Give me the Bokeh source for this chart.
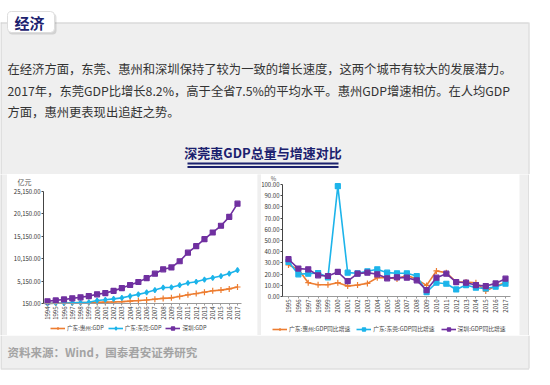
import math
from bokeh.plotting import figure
from bokeh.layouts import column, row
from bokeh.models import Range1d, FixedTicker, NumeralTickFormatter, Legend, LegendItem, Label
from bokeh.core.properties import value
from bokeh.embed import file_html
from bokeh.resources import INLINE

# ---------------- data ----------------
years_total = list(range(1994, 2018))
huizhou_gdp = [168, 215, 265, 300, 335, 370, 410, 452, 500, 576, 685, 803, 935, 1105,
               1290, 1415, 1730, 2093, 2368, 2678, 3000, 3140, 3412, 3830]
dongguan_gdp = [158, 207, 246, 295, 357, 414, 820, 992, 1185, 1404, 1805, 2183, 2627, 3151,
                3702, 3763, 4246, 4735, 5010, 5490, 5881, 6275, 6828, 7582]
shenzhen_gdp = [635, 843, 1051, 1297, 1535, 1804, 2188, 2483, 2970, 3586, 4282, 4951, 5814,
                6802, 7787, 8201, 9582, 11506, 12950, 14500, 16002, 17503, 19493, 22438]

years_growth = list(range(1995, 2018))
huizhou_growth = [28.2, 24.3, 12.3, 10.5, 10.5, 12.3, 9.3, 10.2, 11.7, 16.8, 17.0, 15.6,
                  18.9, 15.3, 9.9, 22.8, 21.3, 12.9, 12.9, 12.3, 4.8, 9.3, 12.3]
dongguan_growth = [31.0, 19.8, 20.4, 21.0, 17.1, 98.5, 21.3, 20.7, 22.5, 24.3, 21.3, 20.7,
                   20.7, 18.3, 3.9, 12.3, 11.4, 6.3, 10.2, 7.8, 7.2, 8.7, 11.4]
shenzhen_growth = [33.3, 24.9, 24.3, 18.9, 18.3, 21.9, 13.8, 20.4, 21.3, 19.8, 16.2, 17.1,
                   16.8, 14.4, 5.7, 16.8, 20.4, 12.9, 12.3, 10.2, 9.3, 11.7, 15.9]

left_yticks = [150, 5150, 10150, 15150, 20150, 25150]
right_yticks = [0, 10, 20, 30, 40, 50, 60, 70, 80, 90, 100]

tab_text = "经济"
paragraph_lines = [
    "在经济方面，东莞、惠州和深圳保持了较为一致的增长速度，这两个城市有较大的发展潜力。",
    "2017年，东莞GDP比增长8.2%，高于全省7.5%的平均水平。惠州GDP增速相仿。在人均GDP",
    "方面，惠州更表现出追赶之势。",
]
chart_title = "深莞惠GDP总量与增速对比"
source_text = "资料来源：Wind，国泰君安证券研究"
legend_total = ["广东:惠州:GDP", "广东:东莞:GDP", "深圳:GDP"]
legend_growth = ["广东:惠州:GDP同比增速", "广东:东莞:GDP同比增速", "深圳:GDP同比增速"]
left_unit = "亿元"
right_unit = "%"

# ---------------- style ----------------
FONT_NAME = "Noto Sans CJK SC"
FONT = value(FONT_NAME)
ORANGE = "#ED7D31"
CYAN = "#1DB4EA"
PURPLE = "#7030A0"
BOX = "#EFEFEF"
BORDER = "#CFCFCF"
NAVY = "#1B216E"

CHART_H = 161
TOP_H = 174
OFF = 7


def blank(w, h, xr, yr, bg):
    f = figure(width=w, height=h, x_range=Range1d(*xr), y_range=Range1d(*yr),
               output_backend="svg", toolbar_location=None, min_border=0, title=None,
               x_axis_location=None, y_axis_location=None, sizing_mode="fixed")
    f.grid.visible = False
    f.outline_line_color = None
    f.background_fill_color = bg
    f.border_fill_color = bg
    return f


# ---------------- top block ----------------
top = blank(534, TOP_H, (0, 534), (TOP_H, 0), "white")
top.quad(left=0, right=528, top=15 + OFF, bottom=TOP_H, fill_color=BOX, line_color=None)
top.multi_line(xs=[[0.5, 0.5], [0, 528], [528.5, 528.5]],
               ys=[[15 + OFF, TOP_H], [15.5 + OFF, 15.5 + OFF], [15 + OFF, TOP_H]],
               line_color=BORDER, line_width=1)
top.quad(left=8, right=56, top=6 + OFF, bottom=27 + OFF, fill_color="black", fill_alpha=0.12,
         line_color=None, border_radius=4)
top.quad(left=7, right=54, top=4 + OFF, bottom=25 + OFF, fill_color="white",
         line_color="#DDDDDD", border_radius=4)
top.text(x=[14], y=[14.5 + OFF], text=[tab_text], text_font=FONT, text_font_style="bold",
         text_font_size="15px", text_color=NAVY, text_baseline="middle")
top.text(x=[7, 7, 7], y=[61 + OFF, 83 + OFF, 104 + OFF], text=paragraph_lines, text_font=FONT,
         text_font_size="12.3px", text_color="#333333", text_baseline="middle")
top.text(x=[262.5], y=[145 + OFF], text=[chart_title], text_font=FONT, text_font_style="bold",
         text_font_size="13px", text_color=NAVY, text_baseline="middle", text_align="center")
top.multi_line(xs=[[187, 338], [187, 338]], ys=[[156 + OFF, 156 + OFF], [159.5 + OFF, 159.5 + OFF]],
               line_color=NAVY, line_width=2)


def chart(width, xticks, yticks, x_px, y_px, axis_px, fmt):
    """x_px: pixel x of first/last x tick; y_px: pixel y (from top) of first/last y tick;
    axis_px: pixel x of the y axis line. The frame fills the whole figure."""
    kx = (xticks[-1] - xticks[0]) / (x_px[1] - x_px[0])
    ky = (yticks[-1] - yticks[0]) / (y_px[0] - y_px[1])
    xr = Range1d(xticks[0] - x_px[0] * kx, xticks[-1] + (width - x_px[1]) * kx)
    yr = Range1d(yticks[0] - (CHART_H - y_px[0]) * ky, yticks[-1] + y_px[1] * ky)
    p = figure(width=width, height=CHART_H, x_range=xr, y_range=yr, title=None,
               output_backend="svg", toolbar_location=None, sizing_mode="fixed",
               min_border=0)
    p.grid.visible = False
    p.outline_line_color = None
    p.background_fill_color = "white"
    p.border_fill_color = "white"
    x_axis_at = xticks[0] - (x_px[0] - axis_px) * kx
    xa, ya = p.xaxis[0], p.yaxis[0]
    xa.fixed_location = yticks[0]
    ya.fixed_location = x_axis_at
    xa.bounds = (x_axis_at, xticks[-1] + 0.5)
    ya.bounds = (yticks[0], yticks[-1])
    xa.ticker = FixedTicker(ticks=xticks)
    ya.ticker = FixedTicker(ticks=yticks)
    ya.formatter = NumeralTickFormatter(format=fmt)
    for ax in (xa, ya):
        ax.major_label_text_font = FONT_NAME
        ax.major_label_text_font_size = "6px"
        ax.major_label_text_color = "#333333"
        ax.minor_tick_line_color = None
        ax.major_tick_in = 0
        ax.major_tick_out = 2
        ax.major_label_standoff = 1
    ya.axis_line_color = "#444444"
    ya.major_tick_line_color = "#444444"
    xa.axis_line_color = "#9A9A9A"
    xa.major_tick_line_color = "#9A9A9A"
    xa.major_label_orientation = math.pi / 2
    return p, kx, ky


def add_series(p, xs, ys, color, marker, label, items):
    r1 = p.line(xs, ys, line_color=color, line_width=1.6)
    r2 = p.scatter(xs, ys, marker=marker, size=5 if marker != "cross" else 6,
                   fill_color=color, line_color=color, line_width=1.2)
    items.append(LegendItem(label=label, renderers=[r1, r2]))


def make_legend(items, loc, font_size, spacing):
    lg = Legend(items=items, orientation="horizontal", location=loc)
    lg.label_text_font = FONT_NAME
    lg.label_text_font_size = font_size
    lg.label_text_color = "#444444"
    lg.glyph_height = 8
    lg.glyph_width = 15
    lg.label_height = 8
    lg.label_standoff = 2
    lg.spacing = spacing
    lg.padding = 1
    lg.margin = 0
    lg.border_line_color = None
    lg.background_fill_alpha = 0
    return lg


# ---------------- left chart (page x 15..265, y 175..336) ----------------
p1, kx1, ky1 = chart(250, years_total, left_yticks, (40, 230), (129, 17), 36, "0,0.00")
items1 = []
add_series(p1, years_total, huizhou_gdp, ORANGE, "cross", legend_total[0], items1)
add_series(p1, years_total, dongguan_gdp, CYAN, "diamond", legend_total[1], items1)
add_series(p1, years_total, shenzhen_gdp, PURPLE, "square", legend_total[2], items1)
p1.add_layout(make_legend(items1, (43, 3), "5.6px", 4))
p1.add_layout(Label(x=p1.x_range.start + 17 * kx1, y=p1.y_range.end - 7 * ky1,
                    text=left_unit, text_font=FONT_NAME, text_font_size="7px",
                    text_color="#555555", text_align="center", text_baseline="middle"))

# ---------------- right chart (page x 269..527, y 175..336) ----------------
p2, kx2, ky2 = chart(258, years_growth, right_yticks, (27, 244), (122, 10), 21, "0.00")
items2 = []
add_series(p2, years_growth, huizhou_growth, ORANGE, "cross", legend_growth[0], items2)
add_series(p2, years_growth, dongguan_growth, CYAN, "square", legend_growth[1], items2)
add_series(p2, years_growth, shenzhen_growth, PURPLE, "square", legend_growth[2], items2)
p2.add_layout(make_legend(items2, (11, 2), "5.8px", 6))
p2.add_layout(Label(x=p2.x_range.start + 12 * kx2, y=p2.y_range.end - 4 * ky2,
                    text=right_unit, text_font=FONT_NAME, text_font_size="6px",
                    text_color="#555555", text_align="center", text_baseline="middle"))

# ---------------- side fillers ----------------
g_left = blank(7, CHART_H, (0, 7), (0, CHART_H), BOX)
g_left.segment(x0=[0.5], y0=[0], x1=[0.5], y1=[CHART_H], line_color=BORDER)
g_mid = blank(4, CHART_H, (0, 4), (0, CHART_H), BOX)
g_mid.quad(left=[0], right=[4], top=[CHART_H], bottom=[0], fill_color=BOX, line_color=None)
g_right = blank(10, CHART_H, (0, 10), (0, CHART_H), BOX)
g_right.segment(x0=[9.5], y0=[0], x1=[9.5], y1=[CHART_H], line_color=BORDER)
g_white = blank(5, CHART_H, (0, 5), (0, CHART_H), "white")
g_white.quad(left=[0], right=[5], top=[CHART_H], bottom=[0], fill_color="white", line_color=None)

# ---------------- bottom block ----------------
bot = blank(534, 40, (0, 534), (40, 0), "white")
bot.quad(left=0, right=528, top=0, bottom=33, fill_color=BOX, line_color=None)
bot.multi_line(xs=[[0.5, 0.5], [0, 528.5], [528.5, 528.5]],
               ys=[[0, 33], [33.5, 33.5], [0, 33]], line_color=BORDER, line_width=1)
bot.text(x=[7], y=[16.5], text=[source_text], text_font=FONT, text_font_style="bold",
         text_font_size="11.5px", text_color="#A3A3A3", text_baseline="middle")

layout = column(top, row(g_left, p1, g_mid, p2, g_right, g_white, spacing=0), bot, spacing=0)

open("out.html", "w").write(file_html(layout, INLINE))
